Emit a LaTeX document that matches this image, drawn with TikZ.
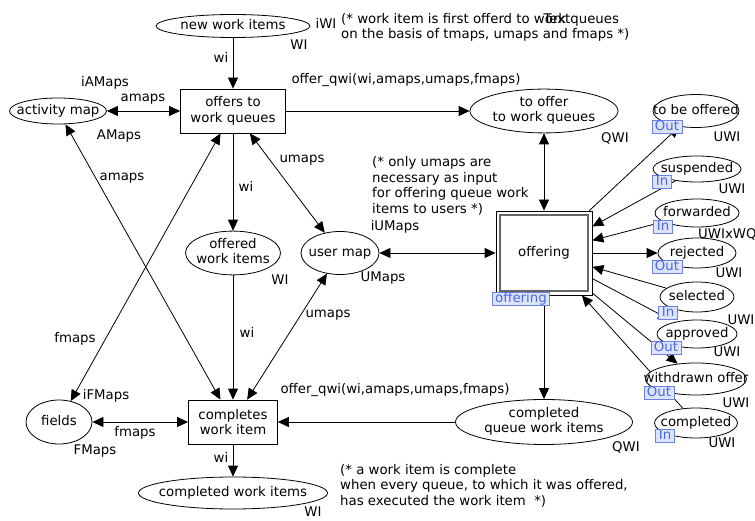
\documentclass[tikz,border=0pt]{standalone}
\usepackage{fontspec}
\setmainfont{DejaVu Sans}
\usetikzlibrary{arrows.meta,shapes.geometric,backgrounds}
\definecolor{tagtext}{RGB}{75,105,225}
\definecolor{tagfill}{RGB}{221,227,250}
\definecolor{tagline}{RGB}{105,130,230}
\newcommand\plc[1]{\makebox[0pt]{\begin{tabular}{@{}c@{}}#1\end{tabular}}}
\begin{document}
\begin{tikzpicture}[x=1pt,y=-1pt,
 every node/.style={font=\fontsize{13.3pt}{15.5pt}\selectfont},
 place/.style={ellipse,draw,fill=white,line width=0.8pt,inner sep=0pt},
 trans/.style={rectangle,draw,fill=white,line width=0.8pt,inner sep=0pt,align=center},
 tag/.style={draw=tagline,fill=tagfill,text=tagtext,inner xsep=3pt,inner ysep=0pt,
   minimum height=13pt,text height=9.7pt,text depth=2.4pt,line width=0.8pt},
 lab/.style={inner sep=0pt},
 arc/.style={draw,line width=0.8pt,-{Triangle[length=11pt,width=10pt]}},
 barc/.style={draw,line width=0.8pt,{Triangle[length=11pt,width=10pt]}-{Triangle[length=11pt,width=10pt]}},
]
\useasboundingbox (0,0) rectangle (755,521);

% places
\node[place,minimum width=154pt,minimum height=23pt] (nwi) at (233,26) {\plc{new work items}};
\node[place,minimum width=97pt,minimum height=26pt] (am) at (58,111) {\plc{activity map}};
\node[place,minimum width=148pt,minimum height=43pt] (tow) at (544,111) {\plc{to offer\\to work queues}};
\node[place,minimum width=86pt,minimum height=33pt] (tbo) at (696,111) {\plc{to be offered}};
\node[place,minimum width=88pt,minimum height=26pt] (sus) at (697,169) {\plc{suspended}};
\node[place,minimum width=84pt,minimum height=28pt] (fwd) at (697,213) {\plc{forwarded}};
\node[place,minimum width=78pt,minimum height=30pt] (rej) at (697,253) {\plc{rejected}};
\node[place,minimum width=74pt,minimum height=30pt] (sel) at (697,297) {\plc{selected}};
\node[place,minimum width=80pt,minimum height=28pt] (app) at (697,334) {\plc{approved}};
\node[place,minimum width=101pt,minimum height=32pt] (wdo) at (696,379) {\plc{withdrawn offer}};
\node[place,minimum width=83pt,minimum height=30pt] (cmp) at (696,423) {\plc{completed}};
\node[place,minimum width=78pt,minimum height=43pt] (um) at (340,253) {\plc{user map}};
\node[place,minimum width=95pt,minimum height=43pt] (owi) at (233,253) {\plc{offered\\work items}};
\node[place,minimum width=66pt,minimum height=44pt] (fld) at (59,422) {\plc{fields}};
\node[place,minimum width=177pt,minimum height=45pt] (cqw) at (544,422) {\plc{completed\\queue work items}};
\node[place,minimum width=189pt,minimum height=32pt] (cdw) at (233,493) {\plc{completed work items}};

% transitions
\node[trans,minimum width=105pt,minimum height=44pt] (ofw) at (233,111) {offers to\\work queues};
\node[trans,minimum width=89pt,minimum height=44pt] (cwi) at (233,422) {completes\\work item};
\node[trans,minimum width=96pt,minimum height=84pt] (off) at (544,253) {offering};
\draw[line width=1.6pt,black!60] ([xshift=4.5pt,yshift=-4.5pt]off.north west) rectangle ([xshift=-4.5pt,yshift=4.5pt]off.south east);

% arcs
\begin{pgfonlayer}{background}
\draw[arc] (nwi) -- (ofw);
\draw[barc] (am) -- (ofw);
\draw[arc] (ofw) -- (tow);
\draw[arc] (ofw) -- (owi);
\draw[barc] (ofw) -- (um);
\draw[barc] (fld) -- (ofw);
\draw[barc] (am) -- (cwi);
\draw[arc] (owi) -- (cwi);
\draw[barc] (um) -- (cwi);
\draw[barc] (um) -- (off);
\draw[barc] (tow) -- (off);
\draw[arc] (cqw) -- (cwi);
\draw[arc] (off) -- (cqw);
\draw[barc] (fld) -- (cwi);
\draw[arc] (cwi) -- (cdw);
\draw[arc] (off) -- (tbo);
\draw[arc] (sus) -- (off);
\draw[arc] (fwd) -- (off);
\draw[arc] (off) -- (rej);
\draw[arc] (sel) -- (off);
\draw[arc,shorten >=6pt] (off) -- (app);
\draw[arc] (off) -- (wdo);
\draw[arc] (cmp) -- (off);
\end{pgfonlayer}

% port tags
\node[tag] (t1) at (667,127) {Out};
\node[tag] (t2) at (662,182) {In};
\node[tag] (t3) at (663,227) {In};
\node[tag] (t4) at (667,267) {Out};
\node[tag] (t5) at (668,313) {In};
\node[tag] (t6) at (666,348) {Out};
\node[tag] (t7) at (659,393) {Out};
\node[tag] (t8) at (665,436) {In};
\node[tag] (t9) at (521,299) {offering};

% inscriptions
\node[lab] (l1) at (326,23) {iWI};
\node[lab] (l2) at (299,45) {WI};
\node[lab] (l3) at (221,57) {wi};
\node[lab] (l4) at (105,83) {iAMaps};
\node[lab] (l5) at (143,99) {amaps};
\node[lab] (l6) at (119,136) {AMaps};
\node[lab] (l7) at (406,80) {offer\_qwi(wi,amaps,umaps,fmaps)};
\node[lab] (l8) at (615,138) {QWI};
\node[lab] (l9) at (727,137) {UWI};
\node[lab] (l10) at (122,178) {amaps};
\node[lab] (l11) at (246,186) {wi};
\node[lab] (l12) at (302,160) {umaps};
\node[lab] (l13) at (280,280) {WI};
\node[lab] (l14) at (395,227) {iUMaps};
\node[lab] (l15) at (383,278) {UMaps};
\node[lab] (l16) at (732,189) {UWI};
\node[lab,anchor=west] (l17) at (698,234) {UWIxWQ};
\node[lab] (l18) at (729,273) {UWI};
\node[lab] (l19) at (741,320) {UWI};
\node[lab] (l20) at (727,352) {UWI};
\node[lab] (l21) at (736,403) {UWI};
\node[lab] (l22) at (722,443) {UWI};
\node[lab] (l23) at (75,339) {fmaps};
\node[lab] (l24) at (247,332) {wi};
\node[lab] (l25) at (328,315) {umaps};
\node[lab] (l26) at (106,396) {iFMaps};
\node[lab] (l27) at (135,433) {fmaps};
\node[lab] (l28) at (95,451) {FMaps};
\node[lab] (l29) at (395,390) {offer\_qwi(wi,amaps,umaps,fmaps)};
\node[lab] (l30) at (221,457) {wi};
\node[lab] (l31) at (313,512) {WI};
\node[lab] (l32) at (626,447) {QWI};

% comments
\node[lab,anchor=west,align=left] (c1) at (341,27.5) {(* work item is first offerd to work queues\\on the basis of tmaps, umaps and fmaps *)};
\node[lab] (c1t) at (557,19) {Text};
\node[lab,anchor=west,align=left] (c2) at (372,186) {(* only umaps are\\necessary as input\\for offering queue work\\items to users *)};
\node[lab,anchor=west,align=left] (c3) at (340,485.5) {(* a work item is complete\\when every queue, to which it was offered,\\has executed the work item\ \ *)};
\end{tikzpicture}
\end{document}
